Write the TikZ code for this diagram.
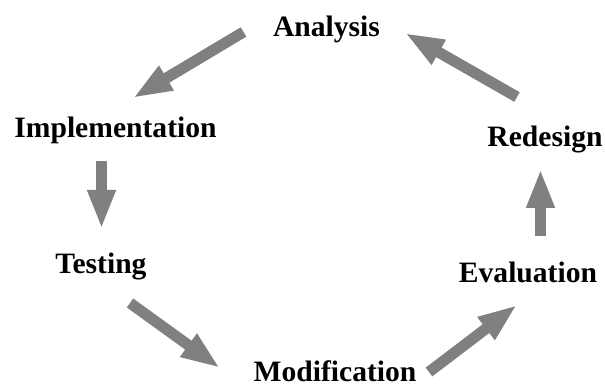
\documentclass[tikz,border=0pt]{standalone}
\usepackage{fontspec}
\setmainfont{Liberation Serif}
\usetikzlibrary{arrows.meta}
\definecolor{arrowgray}{HTML}{808080}
\tikzset{
  lbl/.style={anchor=base, inner sep=0pt, font=\bfseries\fontsize{29.6}{32}\selectfont},
  blockarrow/.style={draw=arrowgray, fill=arrowgray, line width=11pt,
    -{Triangle[width=26pt,length=39pt]}}
}
\begin{document}
\begin{tikzpicture}[x=1pt,y=-1pt]
\useasboundingbox (0,0) rectangle (605,387);
% labels
\node[lbl] (analysis) at (326.5,37) {Analysis};
\node[lbl] (impl) at (115.5,138) {Implementation};
\node[lbl] (testing) at (101,274) {Testing};
\node[lbl] (modif) at (335,381) {Modification};
\node[lbl] (eval) at (528,283) {Evaluation};
\node[lbl] (redesign) at (545,147) {Redesign};
% arrow ends
\coordinate (a1s) at (243.5,32);
\coordinate (a1e) at (133,98);
\coordinate (a2s) at (101.5,161);
\coordinate (a2e) at (101.5,229);
\coordinate (a3s) at (130,303);
\coordinate (a3e) at (220,368);
\coordinate (a4s) at (429,372);
\coordinate (a4e) at (517,305);
\coordinate (a5s) at (540.5,236);
\coordinate (a5e) at (540.5,169);
\coordinate (a6s) at (517,97);
\coordinate (a6e) at (405,33);
% arrows
\draw[blockarrow] (a1s) -- (a1e);
\draw[blockarrow] (a2s) -- (a2e);
\draw[blockarrow] (a3s) -- (a3e);
\draw[blockarrow] (a4s) -- (a4e);
\draw[blockarrow] (a5s) -- (a5e);
\draw[blockarrow] (a6s) -- (a6e);
\end{tikzpicture}
\end{document}
